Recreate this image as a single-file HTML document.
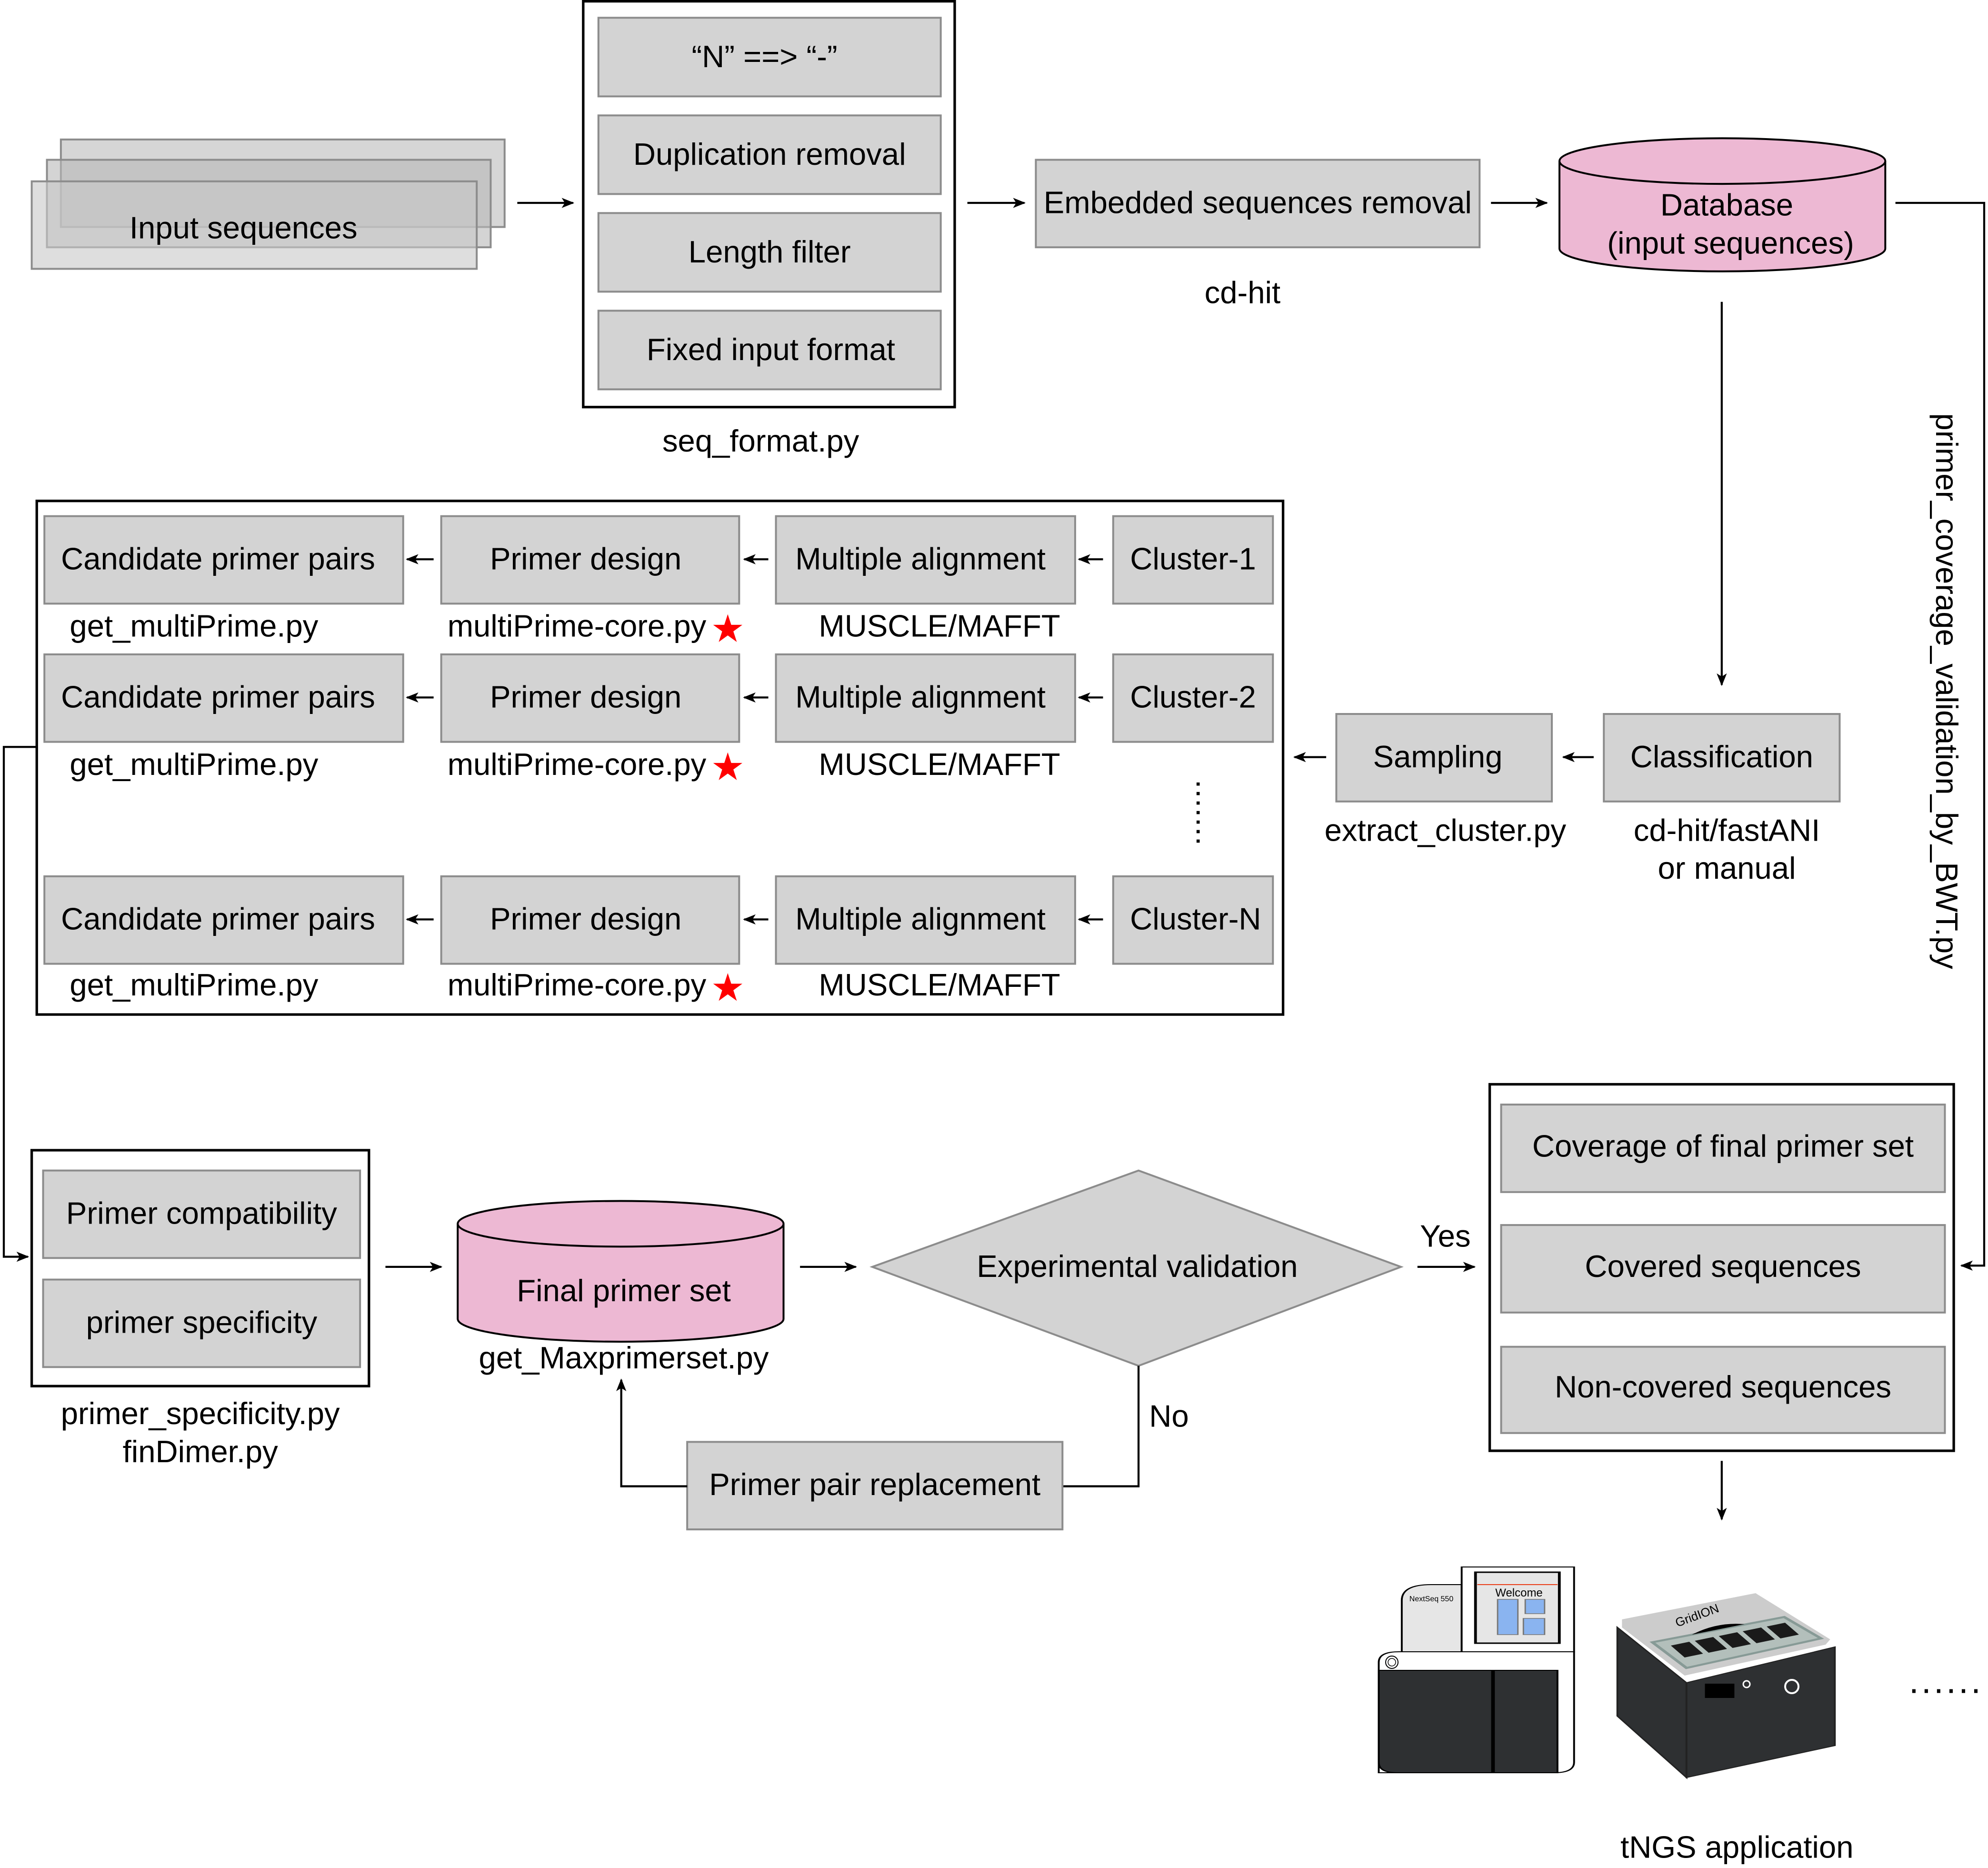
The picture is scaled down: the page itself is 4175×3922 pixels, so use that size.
<!DOCTYPE html>
<html><head><meta charset="utf-8"><style>
html,body{margin:0;padding:0;background:#fff}
svg{display:block}
text{font-family:"Liberation Sans",Arial,sans-serif;font-size:24.5px;fill:#000}
.b{fill:#d3d3d3;stroke:#8c8c8c;stroke-width:1.5}
.o{fill:none;stroke:#000;stroke-width:2}
.l{fill:none;stroke:#000;stroke-width:1.6}
</style></head><body>
<svg width="4175" height="3922" viewBox="0 0 1568 1473" xmlns="http://www.w3.org/2000/svg">
<defs><marker id="a" markerWidth="10" markerHeight="8" refX="9" refY="4" orient="auto" markerUnits="userSpaceOnUse"><path d="M0,0 L10,4 L0,8 L2.5,4 Z" fill="#000"/></marker></defs>
<g text-anchor="middle">
<rect x="48" y="110" width="350" height="69" fill="#c8c8c8" fill-opacity="0.75" stroke="#8c8c8c" stroke-width="1.5"/>
<rect x="37" y="126" width="350" height="69" fill="#b8b8b8" fill-opacity="0.6" stroke="#8c8c8c" stroke-width="1.5"/>
<rect x="25" y="143" width="351" height="69" fill="#c8c8c8" fill-opacity="0.6" stroke="#8c8c8c" stroke-width="1.5"/>
<text x="192" y="188">Input sequences</text>
<line class="l" x1="408" y1="160" x2="452" y2="160" marker-end="url(#a)"/>
<rect class="o" x="460" y="1" width="293" height="320"/>
<rect class="b" x="472" y="14" width="270" height="62"/><text x="603" y="53">“N” ==&gt; “-”</text>
<rect class="b" x="472" y="91" width="270" height="62"/><text x="607" y="130">Duplication removal</text>
<rect class="b" x="472" y="168" width="270" height="62"/><text x="607" y="207">Length filter</text>
<rect class="b" x="472" y="245" width="270" height="62"/><text x="608" y="284">Fixed input format</text>
<text x="600" y="356">seq_format.py</text>
<line class="l" x1="763" y1="160" x2="808" y2="160" marker-end="url(#a)"/>
<rect class="b" x="817" y="126" width="350" height="69"/><text x="992" y="168">Embedded sequences removal</text>
<text x="980" y="239">cd-hit</text>
<line class="l" x1="1176" y1="160" x2="1220" y2="160" marker-end="url(#a)"/>
<path d="M1230,127 L1230,196 A128.5,18 0 0 0 1487,196 L1487,127" fill="#edb8d3" stroke="#000" stroke-width="1.5"/>
<ellipse cx="1358.5" cy="127" rx="128.5" ry="18" fill="#edb8d3" stroke="#000" stroke-width="1.5"/>
<text x="1362" y="170">Database</text><text x="1365" y="200">(input sequences)</text>
<polyline class="l" points="1495,160 1565,160 1565,998 1547,998" marker-end="url(#a)"/>
<text transform="translate(1527,545) rotate(90)">primer_coverage_validation_by_BWT.py</text>
<line class="l" x1="1358" y1="238" x2="1358" y2="540" marker-end="url(#a)"/>
<rect class="b" x="1265" y="563" width="186" height="69"/><text x="1358" y="605">Classification</text>
<text x="1362" y="663">cd-hit/fastANI</text><text x="1362" y="693">or manual</text>
<line class="l" x1="1257" y1="597" x2="1233" y2="597" marker-end="url(#a)"/>
<rect class="b" x="1054" y="563" width="170" height="69"/><text x="1134" y="605">Sampling</text>
<text x="1140" y="663">extract_cluster.py</text>
<line class="l" x1="1046" y1="597" x2="1021" y2="597" marker-end="url(#a)"/>
<rect class="o" x="29" y="395" width="983" height="405"/>
<g>
<rect class="b" x="35" y="407" width="283" height="69"/><text x="172" y="449">Candidate primer pairs</text>
<rect class="b" x="348" y="407" width="235" height="69"/><text x="462" y="449">Primer design</text>
<rect class="b" x="612" y="407" width="236" height="69"/><text x="726" y="449">Multiple alignment</text>
<rect class="b" x="878" y="407" width="126" height="69"/><text x="941" y="449">Cluster-1</text>
<line class="l" x1="870" y1="441" x2="851" y2="441" marker-end="url(#a)"/>
<line class="l" x1="606" y1="441" x2="587" y2="441" marker-end="url(#a)"/>
<line class="l" x1="342" y1="441" x2="321" y2="441" marker-end="url(#a)"/>
<text x="153" y="502">get_multiPrime.py</text><text x="455" y="502">multiPrime-core.py</text><text x="741" y="502">MUSCLE/MAFFT</text>
<text x="574" y="506" style="fill:#f00;font-size:30px">★</text>
</g>
<g transform="translate(0,109)">
<rect class="b" x="35" y="407" width="283" height="69"/><text x="172" y="449">Candidate primer pairs</text>
<rect class="b" x="348" y="407" width="235" height="69"/><text x="462" y="449">Primer design</text>
<rect class="b" x="612" y="407" width="236" height="69"/><text x="726" y="449">Multiple alignment</text>
<rect class="b" x="878" y="407" width="126" height="69"/><text x="941" y="449">Cluster-2</text>
<line class="l" x1="870" y1="441" x2="851" y2="441" marker-end="url(#a)"/>
<line class="l" x1="606" y1="441" x2="587" y2="441" marker-end="url(#a)"/>
<line class="l" x1="342" y1="441" x2="321" y2="441" marker-end="url(#a)"/>
<text x="153" y="502">get_multiPrime.py</text><text x="455" y="502">multiPrime-core.py</text><text x="741" y="502">MUSCLE/MAFFT</text>
<text x="574" y="506" style="fill:#f00;font-size:30px">★</text>
</g>
<g transform="translate(0,284)">
<rect class="b" x="35" y="407" width="283" height="69"/><text x="172" y="449">Candidate primer pairs</text>
<rect class="b" x="348" y="407" width="235" height="69"/><text x="462" y="449">Primer design</text>
<rect class="b" x="612" y="407" width="236" height="69"/><text x="726" y="449">Multiple alignment</text>
<rect class="b" x="878" y="407" width="126" height="69"/><text x="943" y="449">Cluster-N</text>
<line class="l" x1="870" y1="441" x2="851" y2="441" marker-end="url(#a)"/>
<line class="l" x1="606" y1="441" x2="587" y2="441" marker-end="url(#a)"/>
<line class="l" x1="342" y1="441" x2="321" y2="441" marker-end="url(#a)"/>
<text x="153" y="501">get_multiPrime.py</text><text x="455" y="501">multiPrime-core.py</text><text x="741" y="501">MUSCLE/MAFFT</text>
<text x="574" y="505" style="fill:#f00;font-size:30px">★</text>
</g>
<line x1="945" y1="617" x2="945" y2="665" stroke="#000" stroke-width="2.5" stroke-dasharray="2.5,5"/>
<polyline class="l" points="29,589 3,589 3,991 22,991" marker-end="url(#a)"/>
<rect class="o" x="25" y="907" width="266" height="186"/>
<rect class="b" x="34" y="923" width="250" height="69"/><text x="159" y="965">Primer compatibility</text>
<rect class="b" x="34" y="1009" width="250" height="69"/><text x="159" y="1051">primer specificity</text>
<text x="158" y="1123">primer_specificity.py</text><text x="158" y="1153">finDimer.py</text>
<line class="l" x1="304" y1="999" x2="348" y2="999" marker-end="url(#a)"/>
<path d="M361,965 L361,1040 A128.5,18 0 0 0 618,1040 L618,965" fill="#edb8d3" stroke="#000" stroke-width="1.5"/>
<ellipse cx="489.5" cy="965" rx="128.5" ry="18" fill="#edb8d3" stroke="#000" stroke-width="1.5"/>
<text x="492" y="1026">Final primer set</text>
<text x="492" y="1079">get_Maxprimerset.py</text>
<line class="l" x1="631" y1="999" x2="675" y2="999" marker-end="url(#a)"/>
<polygon points="688,999 898,923 1105,999 898,1077" fill="#d3d3d3" stroke="#8c8c8c" stroke-width="1.5"/>
<text x="897" y="1007">Experimental validation</text>
<line class="l" x1="1118" y1="999" x2="1163" y2="999" marker-end="url(#a)"/>
<text x="1140" y="983">Yes</text>
<polyline class="l" points="898,1077 898,1172 838,1172"/>
<text x="922" y="1125">No</text>
<rect class="b" x="542" y="1137" width="296" height="69"/><text x="690" y="1179">Primer pair replacement</text>
<polyline class="l" points="542,1172 490,1172 490,1088" marker-end="url(#a)"/>
<rect class="o" x="1175" y="855" width="366" height="289"/>
<rect class="b" x="1184" y="871" width="350" height="69"/><text x="1359" y="912">Coverage of final primer set</text>
<rect class="b" x="1184" y="966" width="350" height="69"/><text x="1359" y="1007">Covered sequences</text>
<rect class="b" x="1184" y="1062" width="350" height="68"/><text x="1359" y="1102">Non-covered sequences</text>
<line class="l" x1="1358" y1="1152" x2="1358" y2="1198" marker-end="url(#a)"/>
<text x="1370" y="1465">tNGS application</text>
<text x="1535" y="1335" style="font-size:28px;letter-spacing:2px">......</text>
</g>
<g transform="scale(0.375572)">
<g transform="translate(2880,0) scale(1.935,1) translate(-2880,0)">
<path d="M2913,3468 L2913,3360 Q2913,3327 2945,3327 L2978,3327 L2978,3468 Z" fill="#e6e6e6" stroke="#000" stroke-width="2"/>
<rect x="2978" y="3290" width="122" height="178" fill="#fff" stroke="#000" stroke-width="2"/>
<rect x="2993" y="3301" width="91" height="149" fill="#e6e6e6" stroke="#000" stroke-width="3"/>
<line x1="2995" y1="3327" x2="3082" y2="3327" stroke="#e8401c" stroke-width="2"/>
<rect x="3017" y="3358" width="22" height="74" fill="#8ab4f0" stroke="#777" stroke-width="1.5"/>
<rect x="3047" y="3358" width="21" height="30" fill="#8ab4f0" stroke="#777" stroke-width="1.5"/>
<rect x="3045" y="3398" width="23" height="34" fill="#8ab4f0" stroke="#777" stroke-width="1.5"/>
<path d="M2888,3722 L2888,3490 Q2888,3468 2910,3468 L3100,3468 L3100,3700 Q3100,3722 3078,3722 Z" fill="#fff" stroke="#000" stroke-width="2"/>
<path d="M2888,3507 L3082,3507 L3082,3722 L2908,3722 Q2888,3722 2888,3700 Z" fill="#2e3032" stroke="#000" stroke-width="2"/>
<line x1="3012" y1="3507" x2="3012" y2="3722" stroke="#000" stroke-width="4"/>
<polygon points="3147,3417 3222,3533 3222,3732 3147,3603" fill="#2e3032" stroke="#222" stroke-width="2"/>
<polygon points="3222,3533 3383,3458 3383,3665 3222,3732" fill="#2e3032" stroke="#222" stroke-width="2"/>
<polygon points="3152,3400 3297,3345 3378,3442 3373,3453 3220,3518 3152,3417" fill="#cccccc"/>
<polygon points="3185,3448 3328,3395 3368,3440 3222,3502" fill="#b3bfbb" stroke="#879a96" stroke-width="4"/>
<path d="M3228,3432 Q3255,3405 3285,3410 Z" fill="#000"/>
<g fill="#1a1a1a">
<polygon points="3205,3455 3225,3447 3240,3472 3220,3480"/>
<polygon points="3231,3445 3251,3437 3266,3462 3246,3470"/>
<polygon points="3257,3435 3277,3427 3292,3452 3272,3460"/>
<polygon points="3283,3425 3303,3417 3318,3442 3298,3450"/>
<polygon points="3309,3415 3329,3407 3344,3432 3324,3440"/>
</g>
<rect x="3242" y="3535" width="32" height="30" fill="#000"/>
</g>
<circle cx="2923" cy="3490" r="13" fill="none" stroke="#000" stroke-width="2"/>
<circle cx="2923" cy="3490" r="8" fill="none" stroke="#000" stroke-width="1.5"/>
<text x="3006" y="3362" text-anchor="middle" style="font-size:16px">NextSeq 550</text>
<text x="3190" y="3352" text-anchor="middle" style="font-size:24px">Welcome</text>
<text x="3567" y="3400" text-anchor="middle" transform="rotate(-20 3567 3400)" style="font-size:26px">GridION</text>
<circle cx="3668" cy="3536" r="7" fill="none" stroke="#fff" stroke-width="3"/>
<circle cx="3763" cy="3541" r="14" fill="none" stroke="#fff" stroke-width="4"/>
</g>
</svg>
</body></html>
